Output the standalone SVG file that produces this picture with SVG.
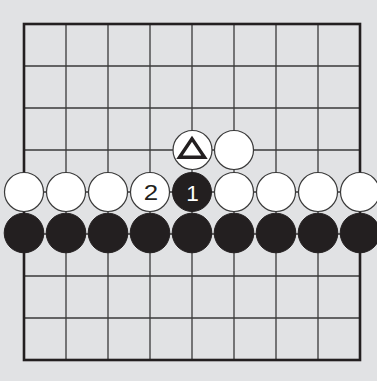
<svg xmlns="http://www.w3.org/2000/svg" width="377" height="381" viewBox="0 0 377 381">
<style>
.grid{stroke:#3a3a3a;stroke-width:1.3;fill:none}
.edge{stroke:#231f20;stroke-width:2.6;fill:none}
.w{fill:#ffffff;stroke:#3a3a3a;stroke-width:1.2}
.b{fill:#231f20;stroke:#231f20;stroke-width:1}
.num{font-family:"Liberation Sans",Arial,sans-serif;font-size:22.5px;text-anchor:middle}
</style>
<rect x="0" y="0" width="377" height="381" fill="#e1e2e4"/>
<g id="board">
<path class="grid" d="M66 24V360M108 24V360M150 24V360M192 24V360M234 24V360M276 24V360M318 24V360M24 66H360M24 108H360M24 150H360M24 192H360M24 234H360M24 276H360M24 318H360"/>
<rect class="edge" x="24" y="24" width="336" height="336"/>
</g>
<g id="white-stones">
<circle class="w" cx="234" cy="150" r="19.5"/>
<circle class="w" cx="24" cy="192" r="19.5"/>
<circle class="w" cx="66" cy="192" r="19.5"/>
<circle class="w" cx="108" cy="192" r="19.5"/>
<circle class="w" cx="234" cy="192" r="19.5"/>
<circle class="w" cx="276" cy="192" r="19.5"/>
<circle class="w" cx="318" cy="192" r="19.5"/>
<circle class="w" cx="360" cy="192" r="19.5"/>
</g>
<g id="stone-triangle">
<circle class="w" cx="192.5" cy="150" r="19.5"/>
<polygon points="192,138.8 179.5,157.2 204.5,157.2" fill="none" stroke="#231f20" stroke-width="3.4" stroke-linejoin="miter"/>
</g>
<g id="stone-2">
<circle class="w" cx="150" cy="192" r="19.5"/>
<text class="num" x="151" y="200.5" fill="#231f20" transform="translate(151 0) scale(1.15 1) translate(-151 0)">2</text>
</g>
<g id="stone-1">
<circle class="b" cx="192" cy="192" r="19.5"/>
<text class="num" x="192.5" y="200.5" fill="#ffffff">1</text>
</g>
<g id="black-stones">
<circle class="b" cx="24" cy="233" r="19.8"/>
<circle class="b" cx="66" cy="233" r="19.8"/>
<circle class="b" cx="108" cy="233" r="19.8"/>
<circle class="b" cx="150" cy="233" r="19.8"/>
<circle class="b" cx="192" cy="233" r="19.8"/>
<circle class="b" cx="234" cy="233" r="19.8"/>
<circle class="b" cx="276" cy="233" r="19.8"/>
<circle class="b" cx="318" cy="233" r="19.8"/>
<circle class="b" cx="360" cy="233" r="19.8"/>
</g>
</svg>
